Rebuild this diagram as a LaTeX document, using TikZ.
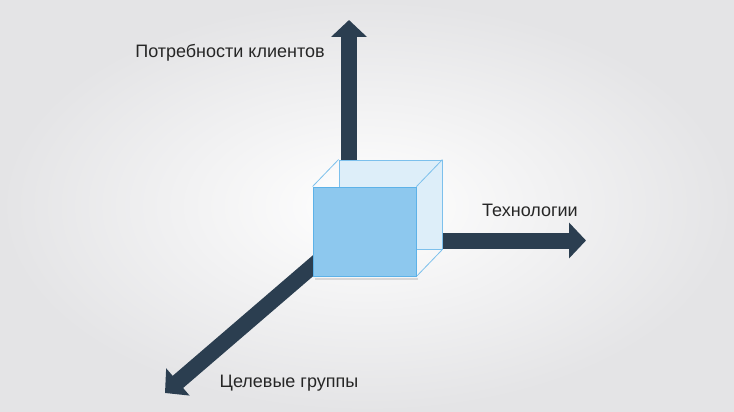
\documentclass[tikz,border=0pt]{standalone}
\usepackage{fontspec}
\setmainfont{Liberation Sans}
\usetikzlibrary{arrows.meta}
\definecolor{axis}{HTML}{2B3E50}
\definecolor{frontfill}{HTML}{8DC8EE}
\definecolor{frontline}{HTML}{5DB2E8}
\definecolor{backfill}{HTML}{DDEEF9}
\definecolor{backline}{HTML}{7CC0EC}
\definecolor{bgedge}{HTML}{E4E4E6}
\tikzset{
  axisarrow/.style={draw=axis, line width=16pt, -{Triangle[width=35pt,length=17pt]}},
  face/.style={rectangle, minimum width=103pt, minimum height=89pt, inner sep=0pt, line width=0.9pt},
  lbl/.style={font=\fontsize{18}{21}\selectfont, text=black!85, inner sep=0pt}
}
\begin{document}
\begin{tikzpicture}[x=1pt,y=-1pt]
\useasboundingbox (0,0) rectangle (734,412);
\shade[inner color=white, outer color=bgedge] (0,0) rectangle (734,412);
% arrow anchors
\coordinate (vstart) at (349,170);
\coordinate (vtip) at (349,20);
\coordinate (hstart) at (430,240.5);
\coordinate (htip) at (586,240.5);
\coordinate (dstart) at (322,258);
\coordinate (dtip) at (165,393);
\draw[axisarrow] (vstart) -- (vtip);
\draw[axisarrow] (hstart) -- (htip);
\draw[axisarrow] (dstart) -- (dtip);
% back face
\node[face, draw=backline, fill=backfill] (back) at (390.5,204.5) {};
% connecting edges
\draw[backline, line width=0.8pt] (back.north west) -- ++(-26,27) coordinate (fnw);
\draw[backline, line width=0.8pt] (back.north east) -- ++(-26,27);
\draw[backline, line width=0.8pt] (back.south east) -- ++(-26,27);
% front face
\fill[black, opacity=0.12] (315,278) rectangle (418,280);
\node[face, draw=frontline, fill=frontfill] (front) at (364.5,231.5) {};
% labels
\node[lbl] (l1) at (230,53) {Потребности клиентов};
\node[lbl] (l2) at (530,210) {Технологии};
\node[lbl] (l3) at (289,383) {Целевые группы};
\end{tikzpicture}
\end{document}
